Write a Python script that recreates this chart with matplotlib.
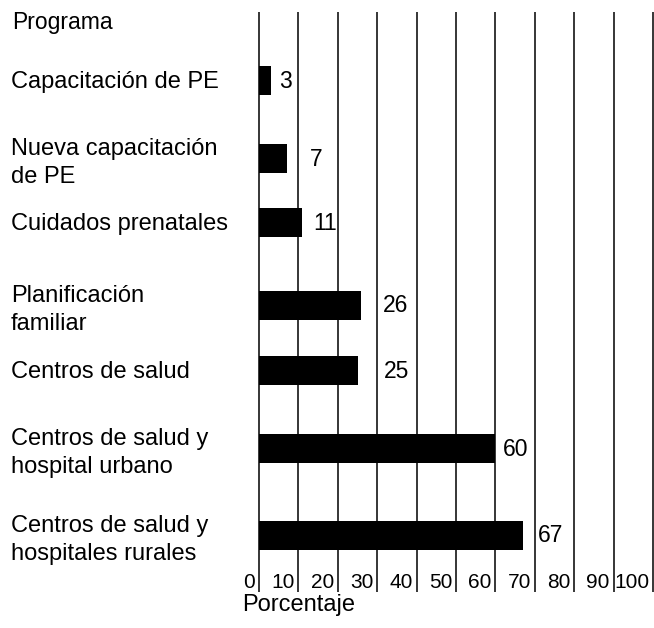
import matplotlib.pyplot as plt

plt.rcParams['font.family'] = ['Liberation Sans', 'DejaVu Sans']

programas = ['Capacitación de PE', 'Nueva capacitación\nde PE', 'Cuidados prenatales',
             'Planificación\nfamiliar', 'Centros de salud',
             'Centros de salud y\nhospital urbano', 'Centros de salud y\nhospitales rurales']
porcentaje = [3, 7, 11, 26, 25, 60, 67]
ticks = [0, 10, 20, 30, 40, 50, 60, 70, 80, 90, 100]

# vertical layout in pixels (rows are not evenly spaced), and gap bar->number
row_y = [80, 158, 222, 305, 370, 448, 535]
num_gap = [2.1, 5.9, 2.7, 5.5, 6.7, 1.9, 3.8]

W, H = 654, 628
fig = plt.figure(figsize=(W / 100, H / 100), dpi=100)
ax = fig.add_axes([259 / W, 0, 394 / W, 1])
ax.set_xlim(0, 100)
ax.set_ylim(H, 0)
ax.axis('off')

# grid lines, tick numbers sit just left of each line
ax.vlines(ticks, 12, 592, color='black', lw=1.1, clip_on=False)
for t in ticks:
    ax.text(t - 1.0, 582, str(t), ha='right', va='center', fontsize=15, clip_on=False)

ax.barh(row_y, porcentaje, height=29, color='black', zorder=3)
for y, v, g in zip(row_y, porcentaje, num_gap):
    ax.text(v + g, y + 1, str(v), ha='left', va='center', fontsize=16.5, zorder=4)

# category names on the left; two-line names sit a little lower
for y, name in zip(row_y, programas):
    dy = 5 if '\n' in name else 2
    fig.text(11 / W, 1 - (y + dy) / H, name, ha='left', va='center', fontsize=17, linespacing=1.4)

fig.text(12 / W, 1 - 22 / H, 'Programa', ha='left', va='center', fontsize=16.5)
fig.text(242 / W, 1 - 605 / H, 'Porcentaje', ha='left', va='center', fontsize=17)

fig.savefig('out.png', dpi=100, facecolor='white')
